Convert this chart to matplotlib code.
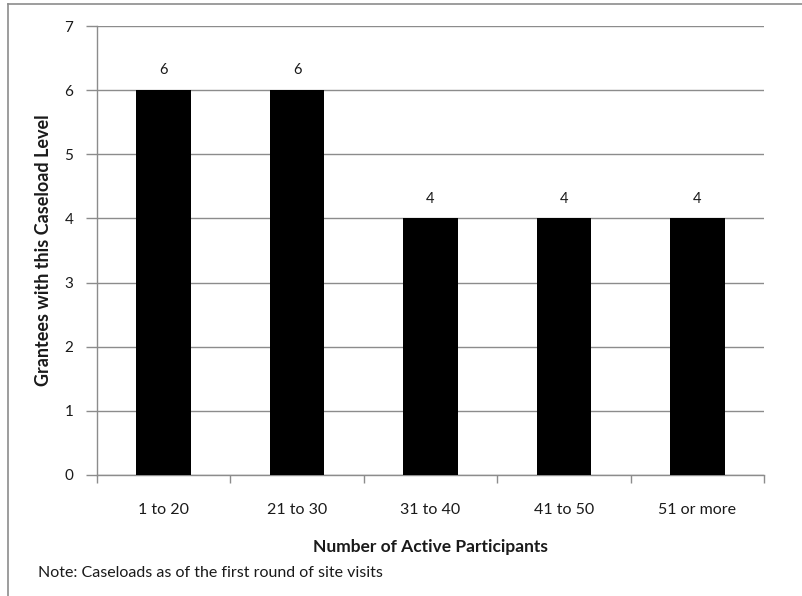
import matplotlib
matplotlib.use("Agg")
import matplotlib.pyplot as plt
from matplotlib.lines import Line2D
import numpy as np

categories = ["1 to 20", "21 to 30", "31 to 40", "41 to 50", "51 or more"]
grantees = [6, 6, 4, 4, 4]
y_ticks = [0, 1, 2, 3, 4, 5, 6, 7]

plt.rcParams['font.family'] = ['Lato', 'DejaVu Sans']

fig = plt.figure(figsize=(8.02, 5.96), dpi=100)
ax = fig.add_axes([97/802, 1 - 475/596, (764 - 97)/802, (475 - 26)/596])

grey = "#8c8c8c"
text_col = "#1a1a1a"
x = np.arange(len(categories))
ax.bar(x, grantees, width=0.41, color="black", zorder=3)
for xi, v in zip(x, grantees):
    ax.text(xi, v + 0.2, str(v), ha="center", va="bottom", fontsize=10.5, color=text_col)

ax.set_xlim(-0.5, len(categories) - 0.5)
ax.set_ylim(0, 7)
ax.set_yticks(y_ticks)
ax.yaxis.grid(True, color=grey, linewidth=1.0, zorder=0)
ax.set_axisbelow(True)

# category labels sit between boundary ticks
ax.set_xticks(np.arange(len(categories) + 1) - 0.5)
ax.set_xticklabels([])
ax.set_xticks(x, minor=True)
ax.set_xticklabels(categories, minor=True, fontsize=11.5, color=text_col)
ax.tick_params(axis="x", which="minor", length=0, pad=20)
ax.tick_params(axis="x", which="major", length=6, color=grey, width=1.0)
ax.tick_params(axis="y", length=8, color=grey, width=1.0, pad=9, labelsize=11, labelcolor=text_col)

for side in ("top", "right"):
    ax.spines[side].set_visible(False)
for side in ("left", "bottom"):
    ax.spines[side].set_color(grey)
    ax.spines[side].set_linewidth(1.0)

ax.set_xlabel("Number of Active Participants", fontsize=12.5, fontweight="bold",
              color=text_col, labelpad=16)
ax.set_ylabel("Grantees with this Caseload Level", fontsize=13, fontweight="bold",
              color=text_col, labelpad=9)

fig.text(38/802, 1 - 573/596, "Note: Caseloads as of the first round of site visits",
         fontsize=11.5, color=text_col, va="center", ha="left")

# frame lines along the top and left edges
fig.add_artist(Line2D([8/802, 1], [1 - 4/596, 1 - 4/596], transform=fig.transFigure,
                      color=grey, linewidth=1.2))
fig.add_artist(Line2D([8/802, 8/802], [0, 1 - 4/596], transform=fig.transFigure,
                      color=grey, linewidth=1.2))

fig.savefig("out.png", dpi=100, facecolor="white")
